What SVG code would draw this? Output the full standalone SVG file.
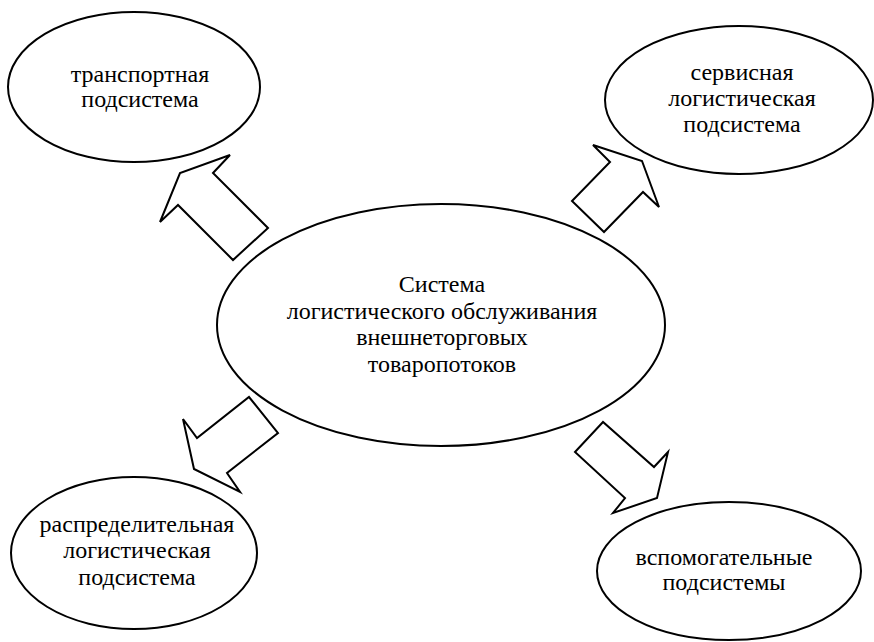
<svg xmlns="http://www.w3.org/2000/svg" width="874" height="642" viewBox="0 0 874 642">
<style>
.n{fill:#fff;stroke:#000;stroke-width:2}
.a{fill:#fff;stroke:#000;stroke-width:2;stroke-linejoin:miter}
.t{font-family:"Liberation Serif","Times New Roman",serif;font-size:24px;fill:#000;text-anchor:middle}
</style>
<rect width="874" height="642" fill="#fff"/>
<g id="connectors">
<polygon class="a" points="213,173 230,155 180,173 160,222 178,205 233,260 268,228"/>
<polygon class="a" points="593,145 642,161 659,207 643,192 604,232 572,201 610,162"/>
<polygon class="a" points="249,397 278,433 227,473 240,492 194,469 183,419 197,438"/>
<polygon class="a" points="603,422 575,452 625,498 613,513 657,498 668,452 654,467"/>
</g>
<g id="center">
<ellipse class="n" cx="441" cy="325" rx="224" ry="121"/>
<text class="t" x="442" y="292">Система</text>
<text class="t" x="442" y="319">логистического обслуживания</text>
<text class="t" x="442" y="345">внешнеторговых</text>
<text class="t" x="442" y="372">товаропотоков</text>
</g>
<g id="transport">
<ellipse class="n" cx="134" cy="87" rx="126" ry="75"/>
<text class="t" x="140" y="82">транспортная</text>
<text class="t" x="140" y="107">подсистема</text>
</g>
<g id="service">
<ellipse class="n" cx="739" cy="100" rx="134" ry="74"/>
<text class="t" x="742" y="80">сервисная</text>
<text class="t" x="742" y="106">логистическая</text>
<text class="t" x="742" y="132">подсистема</text>
</g>
<g id="distribution">
<ellipse class="n" cx="134" cy="553" rx="123" ry="76"/>
<text class="t" x="137" y="532">распределительная</text>
<text class="t" x="137" y="558">логистическая</text>
<text class="t" x="137" y="585">подсистема</text>
</g>
<g id="auxiliary">
<ellipse class="n" cx="729" cy="571" rx="132" ry="69"/>
<text class="t" x="724" y="565">вспомогательные</text>
<text class="t" x="724" y="590">подсистемы</text>
</g>
</svg>
